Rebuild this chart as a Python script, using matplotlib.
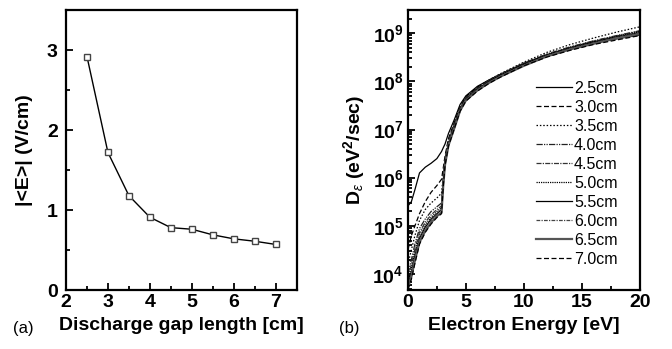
import matplotlib
matplotlib.use("Agg")
import matplotlib.pyplot as plt
from matplotlib.ticker import MultipleLocator, LogLocator, FuncFormatter, NullFormatter
import numpy as np

plt.rcParams['font.family'] = ['Liberation Sans', 'DejaVu Sans']
plt.rcParams['mathtext.fontset'] = 'custom'
plt.rcParams['mathtext.rm'] = 'Liberation Sans'
plt.rcParams['mathtext.it'] = 'Liberation Sans:italic'
plt.rcParams['mathtext.bf'] = 'Liberation Sans:bold'

# panel (a): mean field vs gap length
gap = [2.5, 3.0, 3.5, 4.0, 4.5, 5.0, 5.5, 6.0, 6.5, 7.0]
field = [2.92, 1.72, 1.18, 0.91, 0.78, 0.76, 0.69, 0.64, 0.61, 0.57]

# panel (b): energy diffusion coefficient vs electron energy
energy = [0.0, 0.3, 0.6, 1.0, 1.5, 2.0, 2.5, 2.9, 3.05, 3.2, 3.5, 4.0, 4.5,
          5.0, 6.0, 7.0, 8.0, 10, 12, 14, 16, 18, 20]
d_25 = [2.6e5, 3.2e5, 5.6e5, 1.26e6, 1.66e6, 2.0e6, 2.5e6, 3.5e6, 4.2e6, 5.0e6, 8.3e6, 1.6e7, 3.3e7,
        5.0e7, 7.9e7, 1.07e8, 1.41e8, 2.34e8, 3.47e8, 4.8e8, 6.2e8, 7.6e8, 9.1e8]
d_30 = [3.2e4, 6.3e4, 1.0e5, 1.8e5, 3.2e5, 5.0e5, 6.9e5, 9.3e5, 1.6e6, 2.8e6, 6.5e6, 1.4e7, 2.9e7,
        4.8e7, 7.6e7, 1.05e8, 1.38e8, 2.34e8, 3.55e8, 4.9e8, 6.3e8, 7.9e8, 9.8e8]
d_35 = [1.6e4, 3.2e4, 6.3e4, 1.3e5, 2.2e5, 3.0e5, 3.8e5, 4.8e5, 1.1e6, 2.5e6, 6.0e6, 1.3e7, 2.8e7,
        4.6e7, 7.4e7, 1.07e8, 1.45e8, 2.5e8, 4.0e8, 5.8e8, 7.9e8, 1.05e9, 1.35e9]
d_40 = [1.0e4, 2.0e4, 4.2e4, 8.9e4, 1.4e5, 2.0e5, 2.5e5, 3.0e5, 9.5e5, 2.3e6, 5.7e6, 1.25e7, 2.7e7,
        4.5e7, 7.2e7, 1.05e8, 1.41e8, 2.4e8, 3.7e8, 5.2e8, 6.9e8, 8.9e8, 1.12e9]
d_45 = [8.3e3, 1.6e4, 3.3e4, 7.4e4, 1.2e5, 1.7e5, 2.2e5, 2.6e5, 8.9e5, 2.2e6, 5.5e6, 1.2e7, 2.65e7,
        4.4e7, 7.1e7, 1.02e8, 1.38e8, 2.34e8, 3.6e8, 5.1e8, 6.8e8, 8.7e8, 1.1e9]
d_50 = [7.2e3, 1.3e4, 2.8e4, 6.3e4, 1.07e5, 1.5e5, 2.0e5, 2.4e5, 8.3e5, 2.1e6, 5.3e6, 1.17e7, 2.6e7,
        4.3e7, 6.9e7, 1.0e8, 1.35e8, 2.3e8, 3.55e8, 5.0e8, 6.6e8, 8.5e8, 1.07e9]
d_55 = [6.3e3, 1.1e4, 2.4e4, 5.5e4, 9.5e4, 1.38e5, 1.8e5, 2.2e5, 7.9e5, 2.0e6, 5.1e6, 1.13e7, 2.55e7,
        4.2e7, 6.8e7, 9.8e7, 1.32e8, 2.24e8, 3.5e8, 4.9e8, 6.5e8, 8.3e8, 1.02e9]
d_60 = [5.8e3, 1.0e4, 2.1e4, 5.0e4, 8.7e4, 1.26e5, 1.7e5, 2.0e5, 7.4e5, 1.9e6, 4.9e6, 1.1e7, 2.5e7,
        4.1e7, 6.6e7, 9.5e7, 1.29e8, 2.2e8, 3.4e8, 4.8e8, 6.3e8, 8.1e8, 1.0e9]
d_65 = [5.2e3, 8.9e3, 1.9e4, 4.6e4, 7.9e4, 1.17e5, 1.6e5, 1.9e5, 7.0e5, 1.85e6, 4.7e6, 1.06e7, 2.45e7,
        4.0e7, 6.5e7, 9.3e7, 1.26e8, 2.1e8, 3.3e8, 4.6e8, 6.0e8, 7.8e8, 9.5e8]
d_70 = [4.8e3, 7.9e3, 1.66e4, 4.2e4, 7.4e4, 1.1e5, 1.5e5, 1.8e5, 6.6e5, 1.8e6, 4.5e6, 1.04e7, 2.4e7,
        3.9e7, 6.3e7, 9.1e7, 1.23e8, 2.1e8, 3.2e8, 4.4e8, 5.8e8, 7.2e8, 8.9e8]

curves = [d_25, d_30, d_35, d_40, d_45, d_50, d_55, d_60, d_65, d_70]
labels = ['2.5cm', '3.0cm', '3.5cm', '4.0cm', '4.5cm',
          '5.0cm', '5.5cm', '6.0cm', '6.5cm', '7.0cm']
styles = ['-', (0, (4, 2)), (0, (1.2, 1.5)), (0, (5, 1, 1, 1, 1, 1)), (0, (4, 1, 1, 1)),
          (0, (1, 0.8)), '-', (0, (3, 1, 1, 1)), '-', (0, (4, 2))]
colors = ['k', 'k', 'k', '#222222', '#333333', 'k', 'k', '#444444', '#555555', 'k']
widths = [0.9, 0.9, 0.9, 0.9, 0.9, 0.9, 0.9, 0.9, 1.6, 0.9]

fig = plt.figure(figsize=(6.72, 3.49), dpi=100)
ax1 = fig.add_axes([0.0982, 0.169, 0.3433, 0.802])
ax2 = fig.add_axes([0.607, 0.169, 0.345, 0.802])

# (a)
ax1.plot(gap, field, color='k', lw=1.0, marker='s', ms=5, mfc='white',
         mec='#444444', mew=1.0)
ax1.set_xlim(2, 7.5)
ax1.set_ylim(0, 3.5)
ax1.xaxis.set_major_locator(MultipleLocator(1))
ax1.xaxis.set_minor_locator(MultipleLocator(0.5))
ax1.yaxis.set_major_locator(MultipleLocator(1))
ax1.yaxis.set_minor_locator(MultipleLocator(0.5))
ax1.set_xlabel('Discharge gap length [cm]', fontsize=14, fontweight='bold', labelpad=4)
ax1.set_ylabel('|<E>| (V/cm)', fontsize=14, fontweight='bold', labelpad=10)

# (b)
for y, lab, ls, c, w in zip(curves, labels, styles, colors, widths):
    ax2.plot(energy, y, linestyle=ls, color=c, lw=w, label=lab)
ax2.set_yscale('log')
ax2.set_xlim(0, 20)
ax2.set_ylim(4.7e3, 3e9)
ax2.xaxis.set_major_locator(MultipleLocator(5))
ax2.xaxis.set_minor_locator(MultipleLocator(2.5))
ax2.yaxis.set_major_locator(LogLocator(base=10, numticks=10))
ax2.yaxis.set_minor_locator(LogLocator(base=10, subs=np.arange(2, 10), numticks=20))
ax2.yaxis.set_minor_formatter(NullFormatter())
ax2.yaxis.set_major_formatter(FuncFormatter(
    lambda v, p: r'$\mathbf{10^{%d}}$' % round(np.log10(v))))
ax2.set_xlabel('Electron Energy [eV]', fontsize=14, fontweight='bold', labelpad=4)
ax2.set_ylabel(r'D$_\varepsilon$ (eV$^\mathbf{2}$/sec)', fontsize=14,
               fontweight='bold', labelpad=4)
ax2.legend(loc='center left', bbox_to_anchor=(0.52, 0.416), frameon=False,
           fontsize=11.5, handlelength=2.2, handletextpad=0.15, labelspacing=0.25,
           borderpad=0)

for ax in (ax1, ax2):
    for sp in ax.spines.values():
        sp.set_linewidth(1.6)
    ax.tick_params(which='both', direction='in', top=False, right=False, width=1.3)
    ax.tick_params(which='major', length=5, pad=3)
    ax.tick_params(which='minor', length=3)
    for t in ax.get_xticklabels() + ax.get_yticklabels():
        t.set_fontsize(14)
        t.set_fontweight('bold')
ax1.tick_params(axis='y', which='major', pad=6)

fig.text(0.02, 0.045, '(a)', fontsize=12)
fig.text(0.505, 0.045, '(b)', fontsize=12)

fig.savefig('out.png', dpi=100)
